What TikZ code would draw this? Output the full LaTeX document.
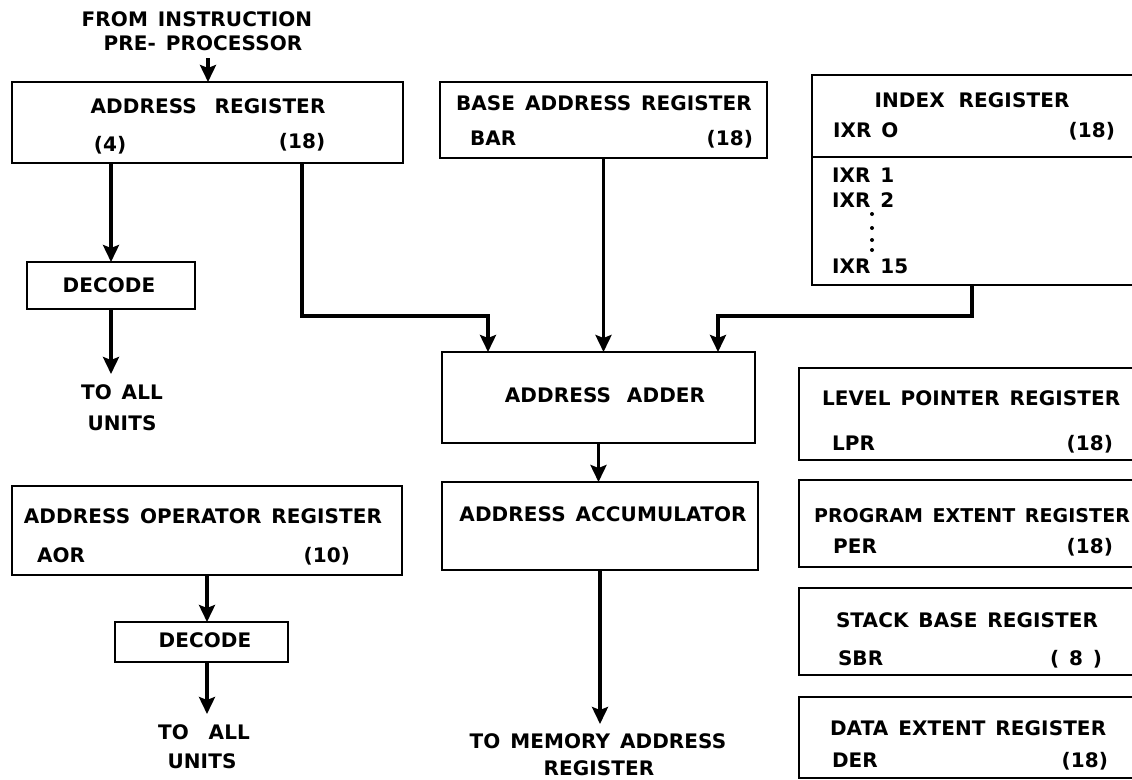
\documentclass[tikz,border=0pt]{standalone}
\usepackage{fontspec}
\newfontfamily\labfont{DejaVu Sans}[LetterSpace=0.5, WordSpace=1.4]
\usetikzlibrary{arrows.meta}
\begin{document}
\begin{tikzpicture}[x=1pt,y=-1pt,
  box/.style={draw, line width=2.8pt, inner sep=0pt, outer sep=0pt},
  arr/.style={line width=3.8pt, -{Stealth[length=17pt,width=16pt,inset=3pt]}},
  lab/.style={font=\labfont\bfseries\fontsize{20}{22}\selectfont, inner sep=0pt, outer sep=0pt},
  dot/.style={circle, fill, inner sep=0pt, minimum size=4pt}]
\useasboundingbox (0,0) rectangle (1132,779);
\clip (0,0) rectangle (1132,779);
\fill[white] (0,0) rectangle (1132,779);

% boxes
\node[box, minimum width=391pt, minimum height=81pt] (ar) at (207.5,122.5) {};
\node[box, minimum width=327pt, minimum height=76pt] (bar) at (603.5,120) {};
\node[box, minimum width=338pt, minimum height=210pt] (idx) at (981,180) {};
\coordinate (idxdl) at (812,157);
\coordinate (idxdr) at (1150,157);
\draw[line width=2.8pt] (idxdl) -- (idxdr);
\node[box, minimum width=168pt, minimum height=47pt] (dec1) at (111,285.5) {};
\node[box, minimum width=313pt, minimum height=91pt] (adder) at (598.5,397.5) {};
\node[box, minimum width=316pt, minimum height=88pt] (acc) at (600,526) {};
\node[box, minimum width=390pt, minimum height=89pt] (aor) at (207,530.5) {};
\node[box, minimum width=173pt, minimum height=40pt] (dec2) at (201.5,642) {};
\node[box, minimum width=351pt, minimum height=92pt] (lpr) at (974.5,414) {};
\node[box, minimum width=351pt, minimum height=87pt] (per) at (974.5,523.5) {};
\node[box, minimum width=351pt, minimum height=87pt] (sbr) at (974.5,631.5) {};
\node[box, minimum width=351pt, minimum height=81pt] (der) at (974.5,737.5) {};

% texts
\node[lab, anchor=base] (t1) at (197,27) {FROM INSTRUCTION};
\node[lab, anchor=base] (t2) at (203,50) {PRE- PROCESSOR};
\node[lab, anchor=base] (arl) at (208,113) {ADDRESS\hspace{0.4em} REGISTER};
\node[lab, anchor=base] (ar4) at (110,151) {(4)};
\node[lab, anchor=base] (ar18) at (302,148) {(18)};
\node[lab, anchor=base] (barl) at (604,110) {BASE ADDRESS REGISTER};
\node[lab, anchor=base west] (barn) at (470,145) {BAR};
\node[lab, anchor=base east] (bar18) at (753,145) {(18)};
\node[lab, anchor=base] (idxl) at (972,107) {INDEX\hspace{0.2em} REGISTER};
\node[lab, anchor=base west] (ix0) at (833,137) {IXR O};
\node[lab, anchor=base east] (ix18) at (1115,137) {(18)};
\node[lab, anchor=base west] (ix1) at (832,182) {IXR 1};
\node[lab, anchor=base west] (ix2) at (832,207) {IXR 2};
\node[dot] (d1) at (872,214) {};
\node[dot] (d2) at (872,228) {};
\node[dot] (d3) at (872,240) {};
\node[dot] (d4) at (872,250) {};
\node[lab, anchor=base west] (ix15) at (832,273) {IXR 15};
\node[lab, anchor=base] (dec1l) at (109,292) {DECODE};
\node[lab, anchor=base] (tu1a) at (122,399) {TO ALL};
\node[lab, anchor=base] (tu1b) at (122,430) {UNITS};
\node[lab, anchor=base] (addl) at (605,402) {ADDRESS\hspace{0.3em} ADDER};
\node[lab, anchor=base] (accl) at (603,521) {ADDRESS ACCUMULATOR};
\node[lab, anchor=base] (tma) at (598,748) {TO MEMORY ADDRESS};
\node[lab, anchor=base] (tmb) at (599,775) {REGISTER};
\node[lab, anchor=base] (aorl) at (203,523) {ADDRESS OPERATOR REGISTER};
\node[lab, anchor=base west] (aorn) at (37,562) {AOR};
\node[lab, anchor=base east] (aor10) at (350,562) {(10)};
\node[lab, anchor=base] (dec2l) at (205,647) {DECODE};
\node[lab, anchor=base] (tu2a) at (204,739) {TO\hspace{0.5em} ALL};
\node[lab, anchor=base] (tu2b) at (202,768) {UNITS};
\node[lab, anchor=base west] (lprl) at (822,405) {LEVEL POINTER REGISTER};
\node[lab, anchor=base west] (lprn) at (832,450) {LPR};
\node[lab, anchor=base east] (lpr18) at (1113,450) {(18)};
\node[lab, anchor=base east, font=\labfont\bfseries\fontsize{19}{21}\selectfont] (perl) at (1130,522) {PROGRAM EXTENT REGISTER};
\node[lab, anchor=base west] (pern) at (833,553) {PER};
\node[lab, anchor=base east] (per18) at (1113,553) {(18)};
\node[lab, anchor=base west] (sbrl) at (836,627) {STACK BASE REGISTER};
\node[lab, anchor=base west] (sbrn) at (838,665) {SBR};
\node[lab, anchor=base east] (sbr8) at (1102,665) {( 8 )};
\node[lab, anchor=base west] (derl) at (830,735) {DATA EXTENT REGISTER};
\node[lab, anchor=base west] (dern) at (832,767) {DER};
\node[lab, anchor=base east] (der18) at (1108,767) {(18)};

% connectors
\coordinate (src) at (208,58);
\coordinate (tu1) at (111,374);
\coordinate (tm) at (600,724);
\coordinate (tu2) at (207,714);
\draw[arr] (src) -- (src |- ar.north);
\draw[arr] (dec1.north |- ar.south) -- (dec1.north);
\draw[arr] (dec1.south) -- (tu1);
\draw[arr] ([xshift=94.5pt]ar.south) -- ++(0,153) -| ([xshift=-110.5pt]adder.north);
\draw[arr] (bar.south) -- (bar.south |- adder.north);
\draw[arr] ([xshift=-9pt]idx.south) -- ++(0,31) -| ([xshift=119.5pt]adder.north);
\draw[arr] (adder.south) -- (adder.south |- acc.north);
\draw[arr] (acc.south) -- (tm);
\draw[arr] (aor.south) -- (aor.south |- dec2.north);
\draw[arr] (dec2.south -| aor.south) -- (tu2);
\end{tikzpicture}
\end{document}
